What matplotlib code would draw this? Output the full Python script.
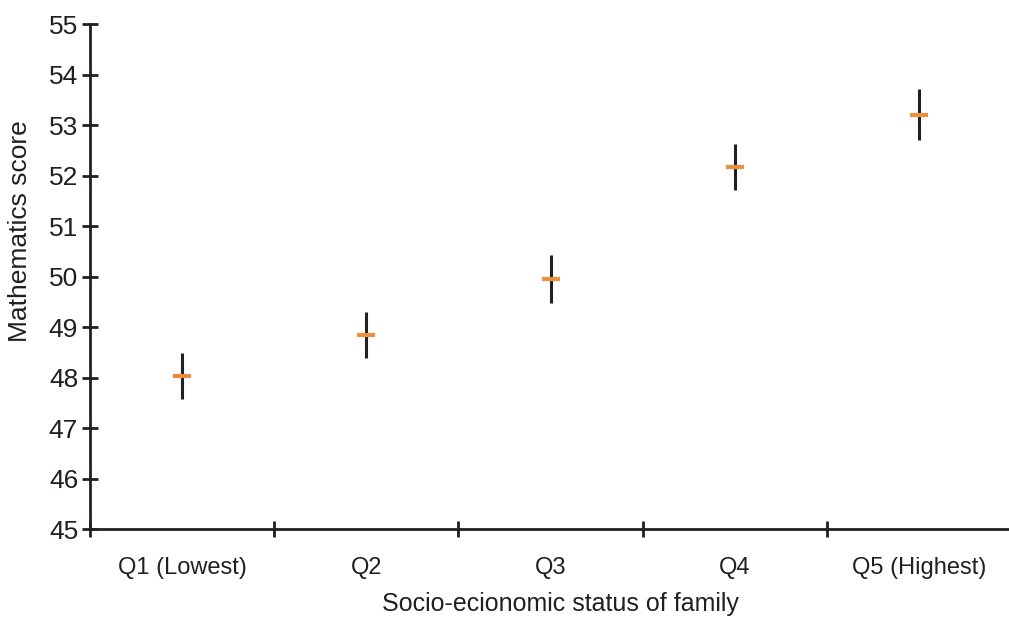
import numpy as np
import matplotlib.pyplot as plt

plt.rcParams['font.family'] = ['Liberation Sans Narrow', 'Liberation Sans', 'DejaVu Sans']

# data
categories = ["Q1 (Lowest)", "Q2", "Q3", "Q4", "Q5 (Highest)"]
scores = [48.04, 48.85, 49.96, 52.18, 53.21]
lower = [47.59, 48.39, 49.49, 51.72, 52.70]
upper = [48.49, 49.30, 50.43, 52.62, 53.72]

ink = "#231f20"
orange = "#ec8f3a"

fig = plt.figure(figsize=(10.09, 6.19), dpi=100)
W, H = 1009, 619
x0, x1 = 90, 1011
y0, y1 = 529.3, 24.3
ax = fig.add_axes([x0 / W, 1 - y0 / H, (x1 - x0) / W, (y0 - y1) / H])

pos = np.arange(len(categories)) + 0.5
scores = np.array(scores)
err = [scores - np.array(lower), np.array(upper) - scores]

ax.errorbar(pos, scores, yerr=err, fmt='none', ecolor=ink, elinewidth=2.2,
            capsize=0, zorder=2)
ax.plot(pos, scores, linestyle='none', marker='_', markersize=13,
        markeredgewidth=3, color=orange, zorder=3)

ax.set_xlim(0, 5)
ax.set_ylim(45, 55)

for s in ['top', 'right']:
    ax.spines[s].set_visible(False)
for s in ['left', 'bottom']:
    ax.spines[s].set_linewidth(2)
    ax.spines[s].set_color(ink)

ax.set_yticks(np.arange(45, 56, 1))
ax.tick_params(axis='y', direction='inout', length=11, width=2, color=ink,
               labelsize=19, labelcolor=ink, pad=3)

ax.set_xticks(np.arange(0, 5))
ax.set_xticklabels([])
ax.set_xticks(pos, minor=True)
ax.set_xticklabels(categories, minor=True)
ax.tick_params(axis='x', which='major', direction='inout', length=11, width=2,
               color=ink)
ax.tick_params(axis='x', which='minor', length=0, labelsize=17,
               labelcolor=ink, pad=20)

fig.text(560 / W, 1 - 604 / H, "Socio-ecionomic status of family",
         ha='center', va='center', fontsize=18, color=ink)
fig.text(20 / W, 1 - 231 / H, "Mathematics score", rotation=90,
         ha='center', va='center', fontsize=19, color=ink)

fig.savefig("out.png", dpi=100)
